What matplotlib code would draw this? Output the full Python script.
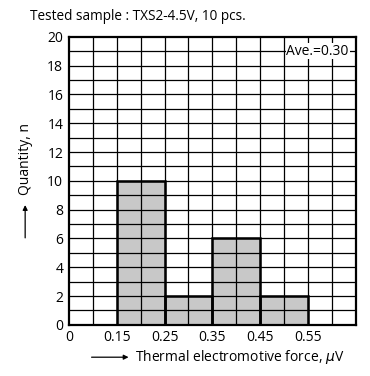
import matplotlib.pyplot as plt
import numpy as np

plt.rcParams['font.family'] = ['Open Sans', 'DejaVu Sans']

# bins are drawn on an evenly spaced column grid (12 columns)
tick_labels = ['0', '0.15', '0.25', '0.35', '0.45', '0.55']
bin_left = [2, 4, 6, 8]          # column index of each bin's left edge
counts = [10, 2, 6, 2]
ave_text = 'Ave.=0.30'

fig = plt.figure(figsize=(3.7, 3.76), dpi=100)
ax = fig.add_axes([0.186, 0.136, 0.776, 0.766])

ax.set_xlim(0, 12)
ax.set_ylim(0, 20)
for x in range(1, 12):
    ax.axvline(x, color='black', lw=0.9, zorder=2)
for y in range(1, 20):
    ax.axhline(y, color='black', lw=0.9, zorder=2)

ax.bar(bin_left, counts, width=2, align='edge', color='#c8c8c8', zorder=1)
ax.bar(bin_left, counts, width=2, align='edge', fill=False,
       edgecolor='black', lw=1.8, zorder=3)

ax.set_xticks(range(0, 12, 2))
ax.set_xticklabels(tick_labels, fontsize=10)
ax.set_yticks(range(0, 21, 2))
ax.tick_params(length=0, labelsize=10, pad=4)
for s in ax.spines.values():
    s.set_linewidth(1.6)

ax.text(10.4, 19, ave_text, ha='center', va='center', fontsize=10,
        bbox=dict(facecolor='white', edgecolor='none', pad=0.5), zorder=4)

fig.text(0.08, 0.957, 'Tested sample : TXS2-4.5V, 10 pcs.', fontsize=9.8,
         va='center')

# x label with arrow
fig.text(0.365, 0.05, 'Thermal electromotive force, $\\mu$V', fontsize=10,
         va='center')
fig.patches.append(plt.matplotlib.patches.FancyArrowPatch(
    (0.24, 0.05), (0.355, 0.05), transform=fig.transFigure,
    arrowstyle='-|>', mutation_scale=7, lw=0.9, color='black'))

# y label with arrow
fig.text(0.068, 0.578, 'Quantity, n', fontsize=10, rotation=90,
         ha='center', va='center')
fig.patches.append(plt.matplotlib.patches.FancyArrowPatch(
    (0.068, 0.36), (0.068, 0.462), transform=fig.transFigure,
    arrowstyle='-|>', mutation_scale=7, lw=0.9, color='black'))

fig.savefig('out.png', dpi=100)
